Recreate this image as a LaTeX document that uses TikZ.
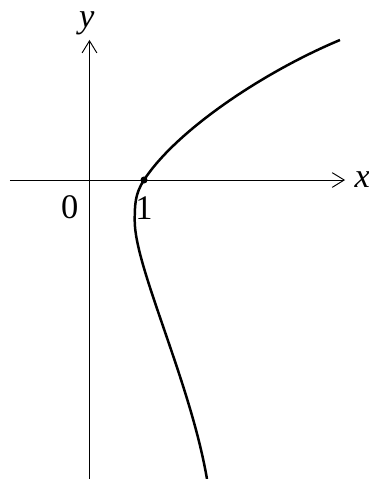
\documentclass[tikz,border=0pt]{standalone}
\usepackage{fontspec}
\setmainfont{Liberation Serif}
\usepackage{tikz}
\usetikzlibrary{arrows.meta, positioning}

\begin{document}
\begin{tikzpicture}[>={Straight Barb[length=0.22cm, width=0.27cm]},
    axis/.style={->, line width=0.5pt},
    curve/.style={line width=1.3pt, line join=round},
    lbl/.style={font=\fontsize{18}{20}\selectfont, inner sep=0pt}]
  \useasboundingbox (-1.642,-5.486) rectangle (5.128,3.303);
  % Axes
  \coordinate (xl) at (-1.46,0);
  \coordinate (xr) at (4.69,0);
  \coordinate (yb) at (0,-5.49);
  \coordinate (yt) at (0,2.57);
  \draw[axis] (xl) -- (xr);
  \draw[axis] (yb) -- (yt);
  \node[lbl, right=0.17cm of xr] (xlab) {\textit{x}};
  \node[lbl] (ylab) at (-0.05,2.88) {\textit{y}};
  \node[lbl] (zero) at (-0.36,-0.50) {0};
  \node[lbl] (one) at (1.0,-0.51) {1};

  % Curve
  \coordinate (top) at (4.596,2.569);
  \coordinate (p1) at (1,0);
  \coordinate (lft) at (0.83,-0.75);
  \coordinate (bot) at (2.156,-5.486);
  \draw[curve] (top) .. controls (3.21,1.99) and (1.6,0.92) .. (p1)
    .. controls (0.836,-0.252) and (0.83,-0.45) .. (lft)
    .. controls (0.83,-1.6) and (1.85,-3.7) .. (bot);
  \fill (p1) circle (0.065);
\end{tikzpicture}
\end{document}
